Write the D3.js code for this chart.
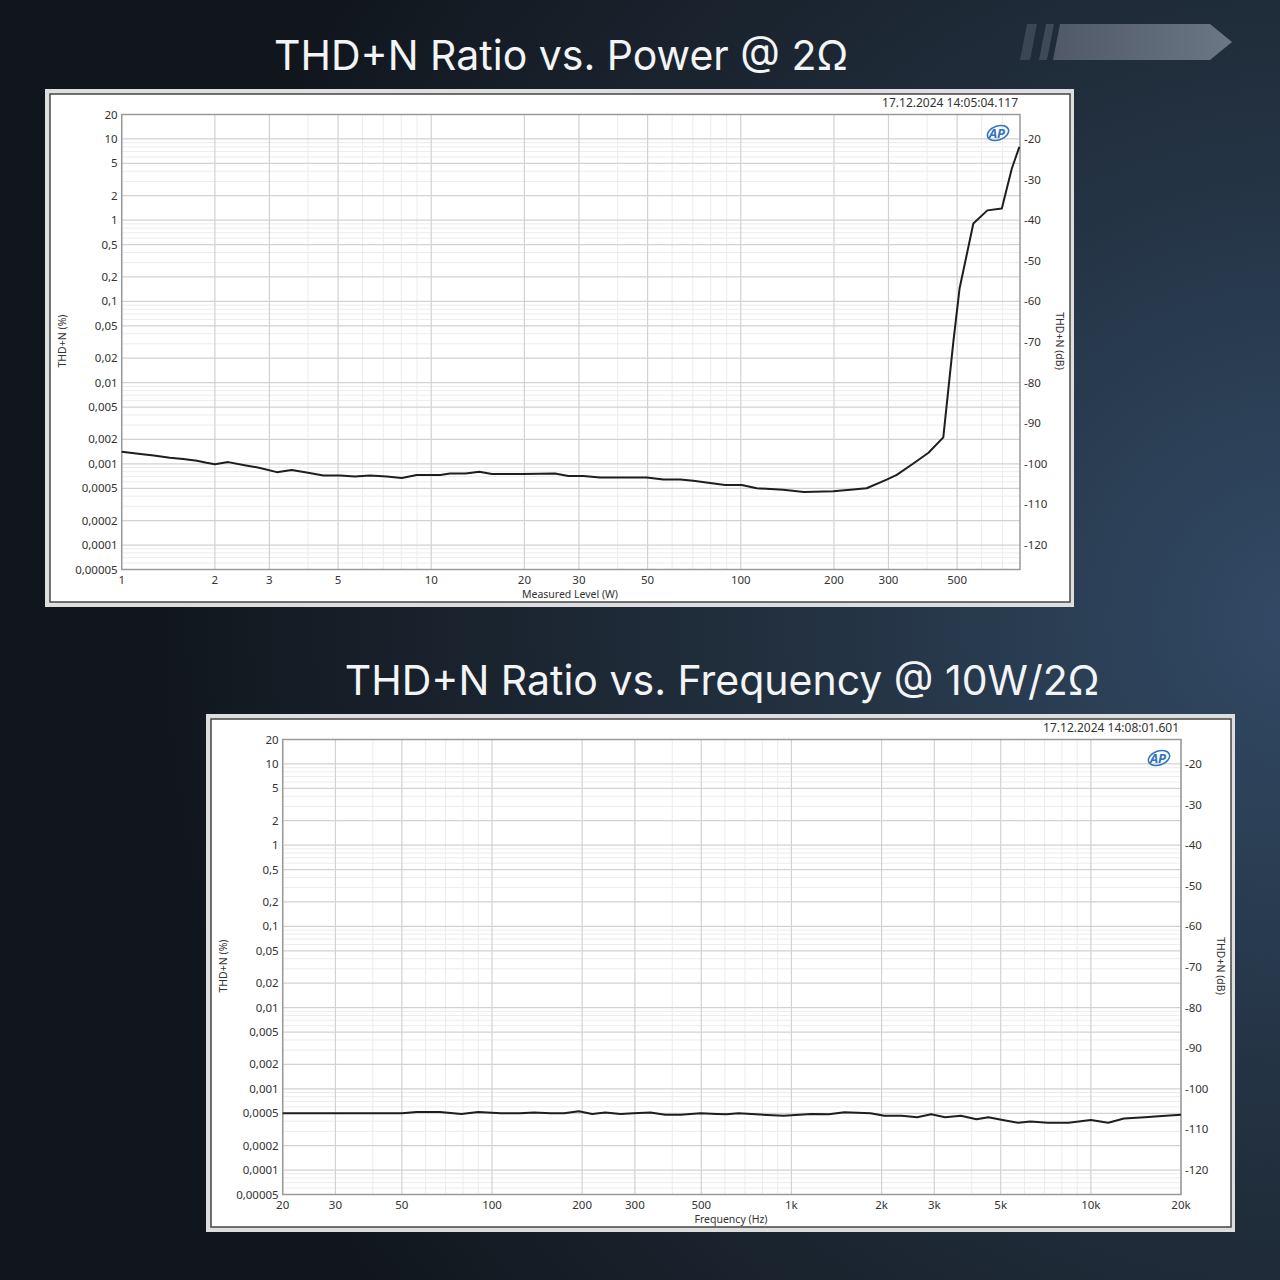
<!DOCTYPE html>
<html>
<meta charset="utf-8">
<script src="https://d3js.org/d3.v7.min.js"></script>
<style>
  body { margin: 0; background: #141a22; }
  text { font-family: "Noto Sans", "Open Sans", sans-serif; }
</style>
<body>
<div id="chart"></div>
<script>

// ---- data ----
// chart 1: THD+N (%) vs measured level (W)
var powerW = [1, 1.15, 1.27, 1.43, 1.58, 1.75, 1.88, 2.0, 2.21, 2.47,
              2.8, 3.17, 3.54, 3.96, 4.48, 5.07, 5.67, 6.34, 7.18, 8.03,
              8.98, 10.7, 11.5, 12.9, 14.3, 15.7, 19.8, 25.1, 27.7, 31.0,
              35.1, 49.7, 56.2, 63.7, 70.2, 89, 100.7, 112.6, 137, 160,
              199, 226, 255, 296, 319, 361, 404, 451, 486, 509,
              564, 626, 697, 751, 794];
var powerThd = [0.00141, 0.00132, 0.00127, 0.00119, 0.00115, 0.00109, 0.00103, 0.00099, 0.00105, 0.00097,
                0.00089, 0.00079, 0.00084, 0.00078, 0.00072, 0.00072, 0.00070, 0.00072, 0.00070, 0.00067,
                0.00073, 0.00073, 0.00076, 0.00076, 0.00080, 0.00075, 0.00075, 0.00076, 0.00071, 0.00071,
                0.00068, 0.00068, 0.00064, 0.00064, 0.00062, 0.00055, 0.00055, 0.00050, 0.00048, 0.00045,
                0.00046, 0.00048, 0.00050, 0.00064, 0.00073, 0.00101, 0.00137, 0.00212, 0.0318, 0.144,
                0.91, 1.32, 1.39, 4.33, 7.98];

// chart 2: THD+N (%) vs frequency (Hz)
var freqHz = [20, 50, 56, 67, 79, 90, 107, 124, 138, 157,
              174, 195, 216, 239, 269, 297, 338, 379, 426, 497,
              564, 607, 666, 760, 942, 1166, 1334, 1503, 1836, 2042,
              2334, 2630, 2930, 3260, 3680, 4150, 4550, 5070, 5716, 6280,
              7180, 8420, 10000, 11430, 12900, 15140, 17300, 20000];
var freqThd = [0.00050, 0.00050, 0.00052, 0.00052, 0.00049, 0.00052, 0.00050, 0.00050, 0.00051, 0.00050,
               0.00050, 0.00053, 0.00049, 0.00051, 0.00049, 0.00050, 0.00051, 0.00048, 0.00048, 0.00050,
               0.00049, 0.000485, 0.00050, 0.000485, 0.000467, 0.00049, 0.000485, 0.000515, 0.00050, 0.000467,
               0.000467, 0.000448, 0.000485, 0.000448, 0.000467, 0.000423, 0.000448, 0.000414, 0.000383, 0.000395,
               0.000383, 0.000383, 0.000414, 0.000383, 0.000431, 0.000448, 0.000462, 0.000481];

// tick labels
var pctTicks = [20, 10, 5, 2, 1, 0.5, 0.2, 0.1, 0.05, 0.02, 0.01, 0.005, 0.002, 0.001, 0.0005, 0.0002, 0.0001, 0.00005];
var pctLabels = ["20", "10", "5", "2", "1", "0,5", "0,2", "0,1", "0,05", "0,02", "0,01", "0,005",
                 "0,002", "0,001", "0,0005", "0,0002", "0,0001", "0,00005"];
var dbTicks = [-20, -30, -40, -50, -60, -70, -80, -90, -100, -110, -120];
var powerTicks = [1, 2, 3, 5, 10, 20, 30, 50, 100, 200, 300, 500];
var powerLabels = ["1", "2", "3", "5", "10", "20", "30", "50", "100", "200", "300", "500"];
var freqTicks = [20, 30, 50, 100, 200, 300, 500, 1000, 2000, 3000, 5000, 10000, 20000];
var freqLabels = ["20", "30", "50", "100", "200", "300", "500", "1k", "2k", "3k", "5k", "10k", "20k"];

var width = 1280, height = 1280;

var svg = d3.select("#chart")
  .append("svg")
    .attr("width", width)
    .attr("height", height);

// background
var defs = svg.append("defs");
var bg = defs.append("radialGradient")
    .attr("id", "bg")
    .attr("gradientUnits", "userSpaceOnUse")
    .attr("cx", 1300).attr("cy", 620).attr("r", 1150);
bg.append("stop").attr("offset", "0").attr("stop-color", "#324a66");
bg.append("stop").attr("offset", "0.45").attr("stop-color", "#22303f");
bg.append("stop").attr("offset", "1").attr("stop-color", "#11161d");
svg.append("rect").attr("width", width).attr("height", height).attr("fill", "url(#bg)");

// decoration arrow top right
var arrowG = defs.append("linearGradient").attr("id", "arrowG");
arrowG.append("stop").attr("offset", "0").attr("stop-color", "#4f5967");
arrowG.append("stop").attr("offset", "1").attr("stop-color", "#6c7785");
svg.append("path").attr("d", "M1027,24 L1037,24 L1030,60 L1020,60 Z").attr("fill", "#3a4653");
svg.append("path").attr("d", "M1046,24 L1054,24 L1047,60 L1039,60 Z").attr("fill", "#3f4a58");
svg.append("path").attr("d", "M1060,24 L1210,24 L1232,42 L1210,60 L1053,60 Z").attr("fill", "url(#arrowG)");

// titles
svg.append("text")
  .attr("x", 561).attr("y", 70)
  .attr("text-anchor", "middle")
  .style("font-family", "Inter, 'Noto Sans', sans-serif")
  .style("font-size", "41px")
  .attr("fill", "#f2f4f6")
  .text("THD+N Ratio vs. Power @ 2Ω");

svg.append("text")
  .attr("x", 722).attr("y", 695)
  .attr("text-anchor", "middle")
  .style("font-family", "Inter, 'Noto Sans', sans-serif")
  .style("font-size", "41px")
  .attr("fill", "#f2f4f6")
  .text("THD+N Ratio vs. Frequency @ 10W/2Ω");

function drawPanel(dx, dy, xDomain, xTicks, xLabels, xTitle, stamp, xs, ys) {
  var g = svg.append("g").attr("transform", "translate(" + dx + "," + dy + ")");

  g.append("rect").attr("x", 45).attr("y", 89).attr("width", 1029).attr("height", 518).attr("fill", "#dedede");
  g.append("rect").attr("x", 50).attr("y", 94).attr("width", 1020).attr("height", 508)
    .attr("fill", "#fff").attr("stroke", "#444").attr("stroke-width", 1.5);

  var left = 121.7, right = 1020, top = 114.5, bottom = 569.5;

  var x = d3.scaleLog().domain(xDomain).range([left, right]);
  var y = d3.scaleLog().domain([0.00005, 20]).range([bottom, top]);
  var ydb = d3.scaleLinear()
    .domain([20 * Math.log10(0.00005 / 100), 20 * Math.log10(20 / 100)])
    .range([bottom, top]);

  // grid: minor then major
  var xMinor = [], yMinor = [];
  for (var e = -5; e <= 4; e++) {
    for (var k = 1; k <= 9; k++) {
      var v = k * Math.pow(10, e);
      if (v > xDomain[0] * 1.0001 && v < xDomain[1] * 0.9999 && xTicks.indexOf(+v.toPrecision(6)) < 0) xMinor.push(v);
      if (v > 0.00005 * 1.0001 && v < 20 * 0.9999 && pctTicks.indexOf(+v.toPrecision(6)) < 0) yMinor.push(v);
    }
  }
  g.selectAll(".ym").data(yMinor).enter().append("line")
    .attr("x1", left).attr("x2", right)
    .attr("y1", function(d) { return y(d); }).attr("y2", function(d) { return y(d); })
    .attr("stroke", "#ececec").attr("stroke-width", 1);
  g.selectAll(".xm").data(xMinor).enter().append("line")
    .attr("y1", top).attr("y2", bottom)
    .attr("x1", function(d) { return x(d); }).attr("x2", function(d) { return x(d); })
    .attr("stroke", "#ececec").attr("stroke-width", 1);
  g.selectAll(".yM").data(pctTicks).enter().append("line")
    .attr("x1", left).attr("x2", right)
    .attr("y1", function(d) { return y(d); }).attr("y2", function(d) { return y(d); })
    .attr("stroke", "#d2d2d2").attr("stroke-width", 1.2);
  g.selectAll(".xM").data(xTicks).enter().append("line")
    .attr("y1", top).attr("y2", bottom)
    .attr("x1", function(d) { return x(d); }).attr("x2", function(d) { return x(d); })
    .attr("stroke", "#d2d2d2").attr("stroke-width", 1.2);

  g.append("rect").attr("x", left).attr("y", top)
    .attr("width", right - left).attr("height", bottom - top)
    .attr("fill", "none").attr("stroke", "#9a9a9a").attr("stroke-width", 1.5);

  // left labels
  g.selectAll(".yl").data(pctTicks).enter().append("text")
    .attr("x", left - 4).attr("y", function(d) { return y(d) + 4; })
    .attr("text-anchor", "end")
    .style("font-size", "11.5px").attr("fill", "#333")
    .text(function(d, i) { return pctLabels[i]; });

  // right dB labels
  g.selectAll(".dl").data(dbTicks).enter().append("text")
    .attr("x", right + 4).attr("y", function(d) { return ydb(d) + 4; })
    .style("font-size", "11.5px").attr("fill", "#333")
    .text(function(d) { return d; });

  // x labels
  g.selectAll(".xl").data(xTicks).enter().append("text")
    .attr("x", function(d) { return x(d); }).attr("y", 584)
    .attr("text-anchor", "middle")
    .style("font-size", "11.5px").attr("fill", "#333")
    .text(function(d, i) { return xLabels[i]; });

  g.append("text").attr("x", 570).attr("y", 598)
    .attr("text-anchor", "middle")
    .style("font-size", "10.5px").attr("fill", "#333")
    .text(xTitle);

  g.append("text")
    .attr("transform", "translate(66,341) rotate(-90)")
    .attr("text-anchor", "middle")
    .style("font-size", "10.5px").attr("fill", "#333")
    .text("THD+N (%)");
  g.append("text")
    .attr("transform", "translate(1056,341) rotate(90)")
    .attr("text-anchor", "middle")
    .style("font-size", "10.5px").attr("fill", "#333")
    .text("THD+N (dB)");

  g.append("text").attr("x", 1018).attr("y", 107)
    .attr("text-anchor", "end")
    .style("font-size", "12px").attr("fill", "#333")
    .text(stamp);

  // AP logo
  g.append("ellipse").attr("cx", 998).attr("cy", 133).attr("rx", 11).attr("ry", 7)
    .attr("fill", "none").attr("stroke", "#2f74c0").attr("stroke-width", 1.5)
    .attr("transform", "rotate(-20,998,133)");
  g.append("text").attr("x", 997).attr("y", 138)
    .attr("text-anchor", "middle")
    .style("font-size", "13px").style("font-weight", "bold").style("font-style", "italic")
    .attr("fill", "#2f74c0")
    .text("AP");

  // curve
  var line = d3.line()
    .x(function(d) { return x(d[0]); })
    .y(function(d) { return y(d[1]); });
  g.append("path")
    .datum(xs.map(function(v, i) { return [v, ys[i]]; }))
    .attr("d", line)
    .attr("fill", "none")
    .attr("stroke", "#1e1e1e")
    .attr("stroke-width", 2)
    .attr("stroke-linejoin", "round");
}

drawPanel(0, 0, [1, 798], powerTicks, powerLabels, "Measured Level (W)",
          "17.12.2024 14:05:04.117", powerW, powerThd);
drawPanel(161, 625, [20, 20000], freqTicks, freqLabels, "Frequency (Hz)",
          "17.12.2024 14:08:01.601", freqHz, freqThd);

</script>
</body>
</html>
